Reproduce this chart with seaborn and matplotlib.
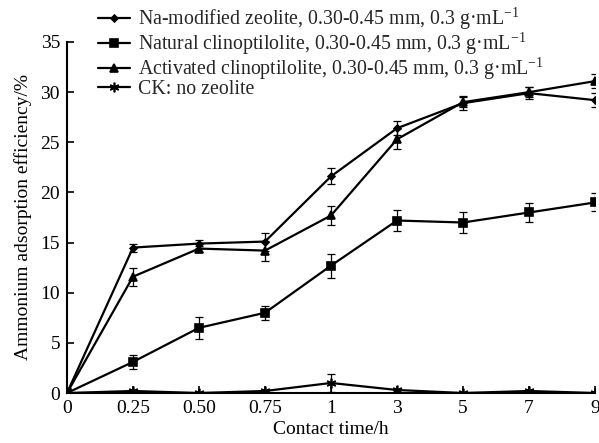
import matplotlib
matplotlib.use("Agg")
import matplotlib.pyplot as plt
import seaborn as sns
import pandas as pd
import numpy as np

times = ["0", "0.25", "0.50", "0.75", "1", "3", "5", "7", "9"]
series_names = [
    "Na-modified zeolite, 0.30-0.45 mm, 0.3 g·mL$^{-1}$",
    "Natural clinoptilolite, 0.30-0.45 mm, 0.3 g·mL$^{-1}$",
    "Activated clinoptilolite, 0.30-0.45 mm, 0.3 g·mL$^{-1}$",
    "CK: no zeolite",
]
na_vals = [0, 14.5, 14.9, 15.1, 21.6, 26.4, 28.9, 29.9, 29.2]
na_err = [0, 0.4, 0.4, 0.9, 0.8, 0.7, 0.7, 0.6, 0.7]
nat_vals = [0, 3.1, 6.5, 8.0, 12.7, 17.2, 17.0, 18.0, 19.0]
nat_err = [0, 0.7, 1.1, 0.7, 1.2, 1.0, 1.0, 0.9, 0.9]
act_vals = [0, 11.6, 14.4, 14.2, 17.7, 25.3, 29.0, 30.0, 31.1]
act_err = [0, 0.9, 0.3, 1.0, 0.9, 1.0, 0.5, 0.5, 0.7]
ck_vals = [0, 0.2, 0, 0.2, 1.0, 0.3, 0, 0.2, 0]
ck_err = [0, 0, 0, 0, 0.9, 0, 0, 0, 0]

all_vals = [na_vals, nat_vals, act_vals, ck_vals]
all_errs = [na_err, nat_err, act_err, ck_err]

rows = []
for name, vals, errs in zip(series_names, all_vals, all_errs):
    for i, (t, v, e) in enumerate(zip(times, vals, errs)):
        rows.append({"pos": i, "time": t, "series": name, "value": v, "err": e})
df = pd.DataFrame(rows)

sns.set_theme(style="white")
plt.rcParams["font.family"] = ["Liberation Serif", "DejaVu Serif"]
plt.rcParams["mathtext.fontset"] = "custom"
plt.rcParams["mathtext.rm"] = "Liberation Serif"
plt.rcParams["mathtext.it"] = "Liberation Serif:italic"

fig = plt.figure(figsize=(5.99, 4.43), dpi=100)
ax = fig.add_axes([67 / 599, 50 / 443, 528 / 599, 351 / 443])

marker_list = ["D", "s", "^", (6, 2, 0)]
size_list = [5, 7.5, 7.5, 10]

for name in series_names:
    sub = df[df["series"] == name]
    ax.errorbar(sub["pos"], sub["value"], yerr=sub["err"], fmt="none",
                ecolor="black", elinewidth=0.9, capsize=3, capthick=0.9, zorder=2)

for name, mk, ms in zip(series_names, marker_list, size_list):
    sub = df[df["series"] == name]
    sns.lineplot(data=sub, x="pos", y="value", label=name, color="black",
                 marker=mk, markersize=ms, markeredgecolor="black",
                 markerfacecolor="black", markeredgewidth=1.2,
                 linewidth=1.6, ax=ax, zorder=3, errorbar=None)

ax.set_xlim(0, 8)
ax.set_ylim(0, 35)
ax.set_xticks(range(len(times)))
ax.set_xticklabels(times)
ax.set_yticks(range(0, 36, 5))
ax.tick_params(axis="both", direction="in", length=5, width=1.2, labelsize=14,
               colors="black", pad=5, left=True, bottom=True)
for s in ["top", "right"]:
    ax.spines[s].set_visible(False)
for s in ["left", "bottom"]:
    ax.spines[s].set_color("black")
    ax.spines[s].set_linewidth(1.5)
ax.set_xlabel("Contact time/h", fontsize=14, color="black", labelpad=3)
ax.set_ylabel("Ammonium adsorption efficiency/%", fontsize=14, color="black", labelpad=6)

handles, labels = ax.get_legend_handles_labels()
for h, ms in zip(handles, size_list):
    h.set_markersize(ms * 0.7)
leg = ax.legend(handles, labels, loc="upper left", bbox_to_anchor=(96 / 599, 1 - 4 / 443),
                bbox_transform=fig.transFigure, frameon=False, fontsize=14.3,
                handlelength=1.6, handletextpad=0.4, labelspacing=-0.07, borderaxespad=0,
                borderpad=0.1)
leg.set_zorder(5)

fig.savefig("out.png", dpi=100)
